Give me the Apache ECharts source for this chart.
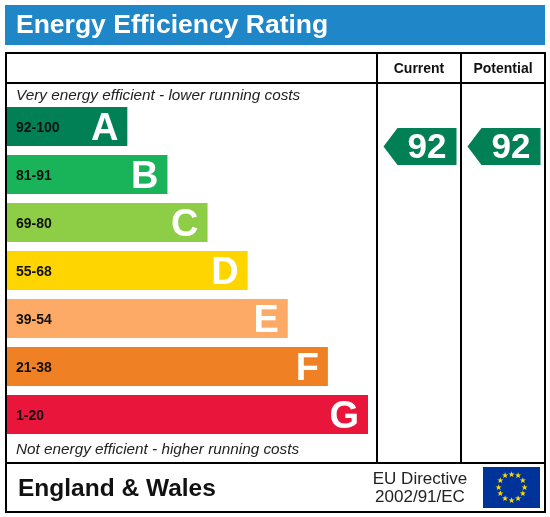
<!DOCTYPE html>
<html><head><meta charset="utf-8">
<script src="https://cdn.jsdelivr.net/npm/echarts@6/dist/echarts.min.js"></script>
<style>html,body{margin:0;padding:0;background:#fff}#main{width:550px;height:517px}</style>
</head><body><div id="main"></div>
<script>
// bands, top to bottom
const letters = ['A', 'B', 'C', 'D', 'E', 'F', 'G'];
const ranges = ['92-100', '81-91', '69-80', '55-68', '39-54', '21-38', '1-20'];
const lengths = [3, 4, 5, 6, 7, 8, 9];
const colors = ['#008054', '#19b459', '#8dce46', '#ffd500', '#fcaa65', '#ef8023', '#e9153b'];
const columns = ['Current', 'Potential'];
const ratings = [92, 92];

const chart = echarts.init(document.getElementById('main'));
const F = 'Liberation Sans, Arial, sans-serif';

const lineStyle = { stroke: '#000', lineWidth: 2 };
chart.setOption({
  animation: false,
  grid: [
    { left: 7, top: 102.5, width: 361, height: 336 },
    { left: 377, top: 102.5, width: 168, height: 336 }
  ],
  xAxis: [
    { type: 'value', min: 0, max: 9, show: false, gridIndex: 0 },
    { type: 'category', data: columns, show: false, gridIndex: 1 }
  ],
  yAxis: [
    { type: 'category', data: letters, inverse: true, show: false, gridIndex: 0 },
    { type: 'value', min: 39, max: 100, show: false, gridIndex: 1 }
  ],
  series: [
    {
      type: 'bar', barWidth: 39,
      data: lengths.map((v, i) => ({ value: v, itemStyle: { color: colors[i] } })),
      label: {
        show: true, position: 'insideLeft', offset: [4, 2],
        formatter: p => ranges[p.dataIndex],
        color: '#111', fontFamily: F, fontWeight: 'bold', fontSize: 14
      }
    },
    {
      type: 'bar', barWidth: 39, barGap: '-100%',
      data: lengths, itemStyle: { color: 'transparent' },
      label: {
        show: true, position: 'insideRight', offset: [-4, 3],
        formatter: p => letters[p.dataIndex],
        color: '#fff', fontFamily: F, fontWeight: 'bold', fontSize: 38
      }
    },
    {
      type: 'custom', xAxisIndex: 1, yAxisIndex: 1,
      data: ratings.map((r, i) => [i, r]),
      renderItem: (params, api) => {
        const c = api.coord([api.value(0), api.value(1)]);
        const w = 73, h = 37, tip = 14;
        const x0 = c[0] - w / 2 + 1, x1 = c[0] + w / 2 + 1;
        return {
          type: 'group', children: [
            { type: 'polygon', shape: { points: [[x0, c[1]], [x0 + tip, c[1] - h / 2], [x1, c[1] - h / 2], [x1, c[1] + h / 2], [x0 + tip, c[1] + h / 2]] },
              style: { fill: colors[0] } },
            { type: 'text', style: { x: x0 + tip + (w - tip) / 2, y: c[1] + 2, text: String(api.value(1)), fill: '#fff',
              font: 'bold 35px ' + F, align: 'center', verticalAlign: 'middle' } }
          ]
        };
      }
    }
  ],
  graphic: [
    { type: 'rect', shape: { x: 5, y: 5, width: 540, height: 40 }, style: { fill: '#1f86c8' } },
    { type: 'text', style: { x: 16, y: 26, text: 'Energy Efficiency Rating', fill: '#fff', font: 'bold 26.5px ' + F, verticalAlign: 'middle' } },
    { type: 'rect', shape: { x: 6, y: 53, width: 539, height: 459 }, style: { fill: 'none', ...lineStyle } },
    { type: 'line', shape: { x1: 6, y1: 83, x2: 545, y2: 83 }, style: lineStyle },
    { type: 'line', shape: { x1: 6, y1: 463, x2: 545, y2: 463 }, style: lineStyle },
    { type: 'line', shape: { x1: 377, y1: 53, x2: 377, y2: 463 }, style: lineStyle },
    { type: 'line', shape: { x1: 461, y1: 53, x2: 461, y2: 463 }, style: lineStyle },
    { type: 'text', style: { x: 419, y: 69, text: 'Current', fill: '#111', font: 'bold 14px ' + F, align: 'center', verticalAlign: 'middle' } },
    { type: 'text', style: { x: 503, y: 69, text: 'Potential', fill: '#111', font: 'bold 14px ' + F, align: 'center', verticalAlign: 'middle' } },
    { type: 'text', style: { x: 16, y: 96, text: 'Very energy efficient - lower running costs', fill: '#222', font: 'italic 15.3px ' + F, verticalAlign: 'middle' } },
    { type: 'text', style: { x: 16, y: 450, text: 'Not energy efficient - higher running costs', fill: '#222', font: 'italic 15.3px ' + F, verticalAlign: 'middle' } },
    { type: 'text', style: { x: 18, y: 489, text: 'England & Wales', fill: '#111', font: 'bold 24.5px ' + F, verticalAlign: 'middle' } },
    { type: 'text', style: { x: 420, y: 479, text: 'EU Directive', fill: '#222', font: '17px ' + F, align: 'center', verticalAlign: 'middle' } },
    { type: 'text', style: { x: 420, y: 497, text: '2002/91/EC', fill: '#222', font: '17px ' + F, align: 'center', verticalAlign: 'middle' } },
    { type: 'rect', shape: { x: 483, y: 467, width: 57, height: 41 }, style: { fill: '#003399' } },
    ...Array.from({ length: 12 }, (_, k) => {
      const a = k * Math.PI / 6;
      return { type: 'text', style: { x: 511.5 + 13 * Math.cos(a), y: 487.5 + 13 * Math.sin(a), text: '★', fill: '#ffdd00', font: '8px DejaVu Sans', align: 'center', verticalAlign: 'middle' } };
    })
  ]
});
</script></body></html>
